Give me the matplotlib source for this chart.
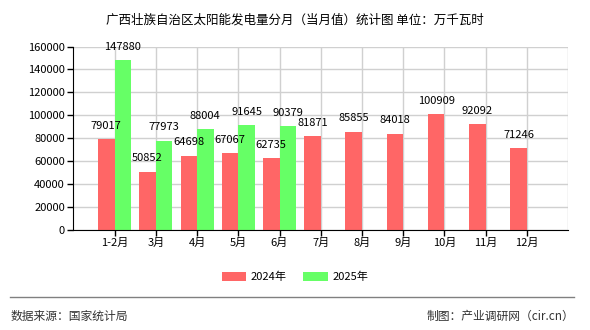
#!/usr/bin/env python3
import matplotlib
matplotlib.use('Agg')
import matplotlib.pyplot as plt
import numpy as np

plt.rcParams['font.family'] = ['Noto Sans CJK SC', 'DejaVu Sans']

months = ['1-2月', '3月', '4月', '5月', '6月', '7月', '8月', '9月', '10月', '11月', '12月']
values_2024 = [79017, 50852, 64698, 67067, 62735, 81871, 85855, 84018, 100909, 92092, 71246]
values_2025 = [147880, 77973, 88004, 91645, 90379]
yticks = [0, 20000, 40000, 60000, 80000, 100000, 120000, 140000, 160000]

red = '#ff6666'
green = '#66ff66'


def main():
    fig = plt.figure(figsize=(5.9, 3.3), dpi=100)
    ax = fig.add_axes([0.1243, 0.303, 0.8387, 0.556])

    x = np.arange(len(months))
    w = 0.4
    b1 = ax.bar(x - w / 2, values_2024, w, color=red, label='2024年', zorder=2)
    x2 = np.arange(len(values_2025))
    b2 = ax.bar(x2 + w / 2, values_2025, w, color=green, label='2025年', zorder=2)

    for bars, vals in ((b1, values_2024), (b2, values_2025)):
        for r, v in zip(bars, vals):
            ax.annotate(str(v), (r.get_x() + r.get_width() / 2, v),
                        xytext=(0, 6), textcoords='offset points',
                        ha='center', va='bottom', fontsize=8, zorder=3)

    ax.set_xlim(-1, len(months))
    ax.set_ylim(0, 160000)
    ax.set_xticks(x)
    ax.set_xticklabels(months, fontsize=8)
    ax.set_yticks(yticks)
    ax.set_yticklabels([str(t) for t in yticks], fontsize=8)
    ax.tick_params(axis='both', length=4, width=1, color='black', pad=2)

    ax.grid(True, color='#d0d0d0', linewidth=1, zorder=0)
    ax.set_axisbelow(True)
    # right edge gridline
    ax.axvline(len(months), color='#d0d0d0', linewidth=1, zorder=0)

    for s in ('top', 'right'):
        ax.spines[s].set_visible(False)
    ax.spines['left'].set_color('black')
    ax.spines['bottom'].set_color('black')

    fig.text(0.5, 0.94, '广西壮族自治区太阳能发电量分月（当月值）统计图 单位：万千瓦时',
             ha='center', va='center', fontsize=9)

    fig.legend(handles=[b1, b2], loc='center', bbox_to_anchor=(0.5, 0.16),
               ncol=2, frameon=False, fontsize=8, handlelength=2.2,
               handleheight=0.9, columnspacing=1.5, handletextpad=0.4)

    fig.add_artist(plt.Line2D([0.017, 0.973], [0.1, 0.1], color='#808080',
                              linewidth=1, transform=fig.transFigure))
    fig.text(0.018, 0.042, '数据来源：国家统计局', ha='left', va='center',
             fontsize=8.5, color='#333333')
    fig.text(0.973, 0.042, '制图：产业调研网（cir.cn）', ha='right', va='center',
             fontsize=8.5, color='#333333')

    fig.savefig('out.png', dpi=100)


if __name__ == '__main__':
    main()
